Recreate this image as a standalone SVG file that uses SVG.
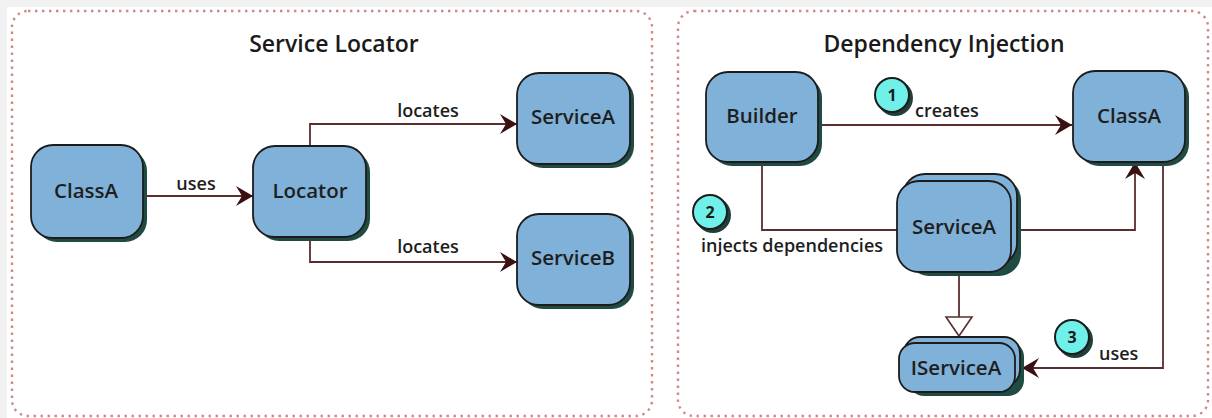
<svg xmlns="http://www.w3.org/2000/svg" width="1212" height="418" viewBox="0 0 1212 418">
<defs>
<style>
.panel{fill:none;stroke:#cf8888;stroke-width:2.4;stroke-dasharray:2.4 4.6}
.box{fill:#80b1d8;stroke:#1c1c1c;stroke-width:1.8}
.shd{fill:#1f4b42}
.lbl{font-family:"Open Sans","Liberation Sans",sans-serif;font-weight:600;font-size:20.5px;fill:#1e1e1e;text-anchor:middle}
.title{font-family:"Open Sans","Liberation Sans",sans-serif;font-weight:600;font-size:23px;fill:#1a1a1a;text-anchor:middle}
.edge{font-family:"Open Sans","Liberation Sans",sans-serif;font-weight:600;font-size:18px;fill:#1e1e1e}
.ln{fill:none;stroke:#5a2e2e;stroke-width:1.8}
.badge{fill:#6ff1ea;stroke:#1c1c1c;stroke-width:2}
.bshd{fill:#1f3f3a}
.num{font-family:"Open Sans","Liberation Sans",sans-serif;font-weight:700;font-size:16px;fill:#1a1a1a;text-anchor:middle}
</style>
<marker id="arr" viewBox="-18 -11 19 22" refX="0" refY="0" markerWidth="19" markerHeight="22" markerUnits="userSpaceOnUse" orient="auto">
<path d="M0,0 L-17,-10 L-11,0 L-17,10 Z" fill="#3a1010"/>
</marker>
<marker id="tri" viewBox="-21 -15 23 30" refX="0" refY="0" markerWidth="23" markerHeight="30" markerUnits="userSpaceOnUse" orient="auto">
<path d="M0,0 L-19,-13 L-19,13 Z" fill="#ffffff" stroke="#5a2e2e" stroke-width="1.6"/>
</marker>
</defs>
<rect x="0" y="0" width="1212" height="418" fill="#ffffff"/>
<rect x="0" y="0" width="1212" height="7" fill="#f1f1f1"/>
<rect x="0" y="0" width="7" height="418" fill="#f1f1f1"/>
<rect class="panel" x="12" y="11" width="640" height="405" rx="16"/>
<rect class="panel" x="678" y="11" width="530" height="405" rx="16"/>
<text class="title" x="334" y="52">Service Locator</text>
<text class="title" x="944" y="52">Dependency Injection</text>

<g id="connectors">
<path class="ln" d="M143,196 H253" marker-end="url(#arr)"/>
<path class="ln" d="M310,146 V124 H517" marker-end="url(#arr)"/>
<path class="ln" d="M310,237 V262 H517" marker-end="url(#arr)"/>
<path class="ln" d="M818,125 H1072" marker-end="url(#arr)"/>
<path class="ln" d="M762,162 V230 H897"/>
<path class="ln" d="M1013,230 H1135 V162" marker-end="url(#arr)"/>
<path class="ln" d="M959,272 V336" marker-end="url(#tri)"/>
<path class="ln" d="M1163,162 V368 H1022" marker-end="url(#arr)"/>
<text class="edge" x="196" y="190" text-anchor="middle">uses</text>
<text class="edge" x="428" y="117" text-anchor="middle">locates</text>
<text class="edge" x="428" y="253" text-anchor="middle">locates</text>
<text class="edge" x="915" y="117">creates</text>
<text class="edge" x="792" y="252" text-anchor="middle">injects dependencies</text>
<text class="edge" x="1099" y="360">uses</text>
</g>

<g id="sl-classa">
<rect class="shd" x="35" y="149" width="112" height="93" rx="22"/>
<rect class="box" x="31" y="145" width="112" height="93" rx="22"/>
<text class="lbl" x="86" y="198">ClassA</text>
</g>
<g id="sl-locator">
<rect class="shd" x="257" y="150" width="113" height="91" rx="22"/>
<rect class="box" x="253" y="146" width="113" height="91" rx="22"/>
<text class="lbl" x="310" y="198">Locator</text>
</g>
<g id="sl-servicea">
<rect class="shd" x="521" y="77" width="113" height="91" rx="22"/>
<rect class="box" x="517" y="73" width="113" height="91" rx="22"/>
<text class="lbl" x="573" y="124">ServiceA</text>
</g>
<g id="sl-serviceb">
<rect class="shd" x="521" y="218" width="113" height="91" rx="22"/>
<rect class="box" x="517" y="214" width="113" height="91" rx="22"/>
<text class="lbl" x="573" y="265">ServiceB</text>
</g>

<g id="di-builder">
<rect class="shd" x="710" y="76" width="112" height="90" rx="22"/>
<rect class="box" x="706" y="72" width="112" height="90" rx="22"/>
<text class="lbl" x="762" y="123">Builder</text>
</g>
<g id="di-classa">
<rect class="shd" x="1077" y="75" width="112" height="91" rx="22"/>
<rect class="box" x="1073" y="71" width="112" height="91" rx="22"/>
<text class="lbl" x="1129" y="123">ClassA</text>
</g>
<g id="di-servicea">
<rect class="shd" x="907" y="178" width="114" height="98" rx="22"/>
<rect class="box" x="903" y="174" width="114" height="91" rx="22"/>
<rect class="box" x="897" y="181" width="114" height="91" rx="22"/>
<text class="lbl" x="954" y="234">ServiceA</text>
</g>
<g id="di-iservicea">
<rect class="shd" x="908" y="341" width="116" height="55" rx="16"/>
<rect class="box" x="904" y="337" width="116" height="49" rx="16"/>
<rect class="box" x="899" y="343" width="116" height="49" rx="16"/>
<text class="lbl" x="956" y="375">IServiceA</text>
</g>

<g id="badge-1">
<circle class="bshd" cx="895" cy="98" r="18"/>
<circle class="badge" cx="892" cy="95" r="17"/>
<text class="num" x="892" y="101">1</text>
</g>
<g id="badge-2">
<circle class="bshd" cx="713" cy="215" r="18"/>
<circle class="badge" cx="710" cy="212" r="17"/>
<text class="num" x="710" y="218">2</text>
</g>
<g id="badge-3">
<circle class="bshd" cx="1075" cy="340" r="18"/>
<circle class="badge" cx="1072" cy="337" r="17"/>
<text class="num" x="1072" y="343">3</text>
</g>
</svg>
